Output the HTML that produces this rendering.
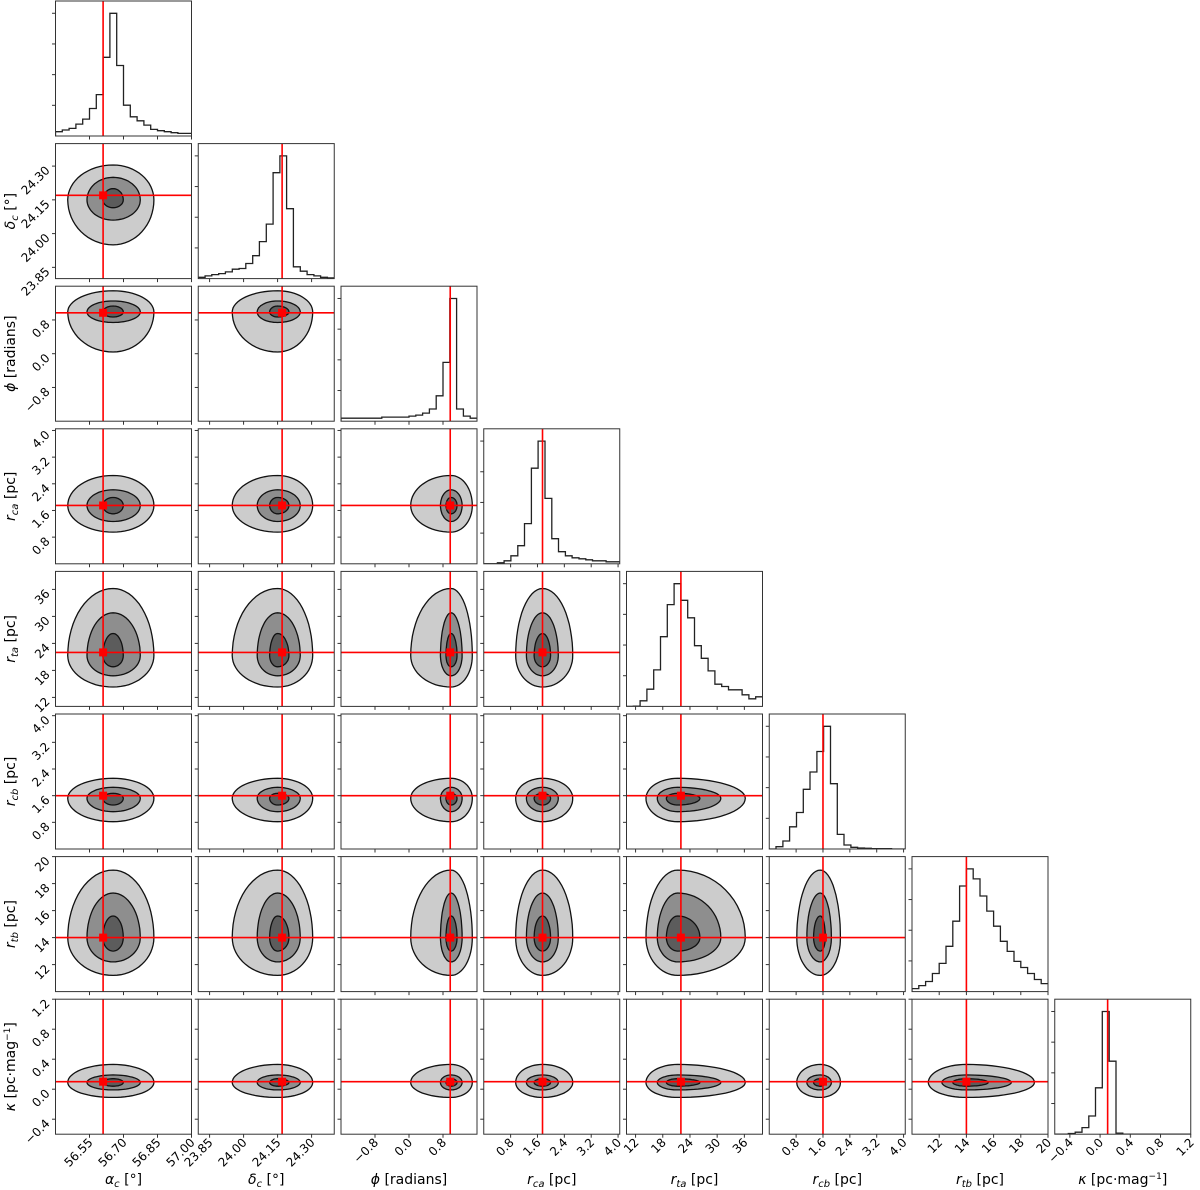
<!DOCTYPE html>
<html><head><meta charset="utf-8"><style>
html,body{margin:0;padding:0;background:#fff;}
svg{display:block;font-family:"DejaVu Sans","Liberation Sans",sans-serif;}
</style></head><body>
<svg id="c" width="1200" height="1190" viewBox="0 0 1200 1190" xmlns="http://www.w3.org/2000/svg"></svg>
<script>
// ---- data ----
const paramMin=[56.4,23.8,-1.6,0,10,0,10,-0.6];
const paramMax=[57.0,24.4,1.6,4.05,40,4.05,20,1.2];
const truths=[56.61,24.17,0.97,1.75,22,1.6,14,0.1];
const modes=[56.654,24.15,0.99,1.75,21.3,1.52,14.0,0.09];
const loW=[[0.2,0.115,0.045],[0.2,0.09,0.035],[0.95,0.25,0.12],[0.8,0.48,0.25],[7,4.5,2.5],[0.7,0.4,0.2],[2.8,1.8,1.0],[0.2,0.1,0.05]];
const hiW=[[0.18,0.12,0.045],[0.155,0.1,0.05],[0.5,0.26,0.14],[0.9,0.47,0.24],[14.9,9.5,4.9],[0.6,0.33,0.15],[5.0,3.3,1.6],[0.24,0.1,0.05]];
const histA=[13,18,23,36,51,83,125,238,371,213,93,58,46,33,20,16,13,10,8,8];
const histD=[4,8,12,15,20,28,30,45,68,110,162,315,365,208,35,22,12,8,4,2];
const histP=[3,3,3,3,3,3,4,4,4,4,5,6,8,12,25,58,121,12,5,3];
const histRca=[0,0,1,3,8,18,40,95,122,65,25,12,8,6,5,4,3,3,2,2];
const histRta=[0,1,17,52,110,210,307,370,320,267,183,145,107,67,60,50,50,35,23,29];
const histRcb=[0,7,24,67,110,180,232,294,370,197,44,12,5,3,2,1,1,1,0,0];
const histRtb=[3,6,10,18,28,45,70,105,122,112,95,80,65,50,40,30,24,18,12,8];
const histK=[0,0,2,6,20,55,140,370,220,3,0,0,0,0,0,0,0,0,0,0];
const tickVals=[[56.55,56.70,56.85,57.00],[23.85,24.00,24.15,24.30],[-0.8,0.0,0.8],[0.8,1.6,2.4,3.2,4.0],[12,18,24,30,36],[0.8,1.6,2.4,3.2,4.0],[12,14,16,18,20],[-0.4,0.0,0.4,0.8,1.2]];
const tickText=[["56.55","56.70","56.85","57.00"],["23.85","24.00","24.15","24.30"],["\u22120.8","0.0","0.8"],["0.8","1.6","2.4","3.2","4.0"],["12","18","24","30","36"],["0.8","1.6","2.4","3.2","4.0"],["12","14","16","18","20"],["\u22120.4","0.0","0.4","0.8","1.2"]];
const hists=[histA,histD,histP,histRca,histRta,histRcb,histRtb,histK];
const labels=[
 ['<tspan font-style="italic">α</tspan><tspan font-style="italic" font-size="10" dy="3">c</tspan><tspan dy="-3">  [°]</tspan>','alpha'],
 ['<tspan font-style="italic">δ</tspan><tspan font-style="italic" font-size="10" dy="3">c</tspan><tspan dy="-3">  [°]</tspan>','delta'],
 ['<tspan font-style="italic">ϕ</tspan> [radians]','phi'],
 ['<tspan font-style="italic">r</tspan><tspan font-style="italic" font-size="10" dy="3">ca</tspan><tspan dy="-3"> [pc]</tspan>','r-ca'],
 ['<tspan font-style="italic">r</tspan><tspan font-style="italic" font-size="10" dy="3">ta</tspan><tspan dy="-3"> [pc]</tspan>','r-ta'],
 ['<tspan font-style="italic">r</tspan><tspan font-style="italic" font-size="10" dy="3">cb</tspan><tspan dy="-3"> [pc]</tspan>','r-cb'],
 ['<tspan font-style="italic">r</tspan><tspan font-style="italic" font-size="10" dy="3">tb</tspan><tspan dy="-3"> [pc]</tspan>','r-tb'],
 ['<tspan font-style="italic">κ</tspan> [pc·mag<tspan font-size="9" dy="-5">−1</tspan><tspan dy="5">]</tspan>','kappa']
];
// ---- geometry ----
const N=8, PW=136, PH=135;
function px0(i){return 55.5+142.75*i;}
function py0(j){return 1+142.6*j;}
function sx(i,v){return px0(i)+(v-paramMin[i])/(paramMax[i]-paramMin[i])*PW;}
function sy(j,v){return py0(j)+PH-(v-paramMin[j])/(paramMax[j]-paramMin[j])*PH;}
let s='<defs>';
for(let j=0;j<N;j++)for(let i=0;i<=j;i++)s+=`<clipPath id="cp${i}_${j}"><rect x="${px0(i)}" y="${py0(j)}" width="${PW}" height="${PH}"/></clipPath>`;
s+='</defs>';
const fills=['#cccccc','#8e8e8e','#5c5c5c'];
function blob(i,j,k){
  const pts=[];
  for(let a=0;a<64;a++){
    const t=a/64*2*Math.PI, c=Math.cos(t), sn=Math.sin(t);
    const dx=c*(c>0?hiW[i][k]:loW[i][k]);
    const dy=sn*(sn>0?hiW[j][k]:loW[j][k]);
    pts.push(sx(i,modes[i]+dx).toFixed(1)+','+sy(j,modes[j]+dy).toFixed(1));
  }
  return 'M'+pts.join('L')+'Z';
}
for(let j=0;j<N;j++){
  for(let i=0;i<=j;i++){
    const x0=px0(i),y0=py0(j);
    s+=`<g>`;
    s+=`<g clip-path="url(#cp${i}_${j})">`;
    if(i===j){
      const h=hists[i], mx=Math.max(...h)*1.1, bw=PW/h.length;
      let d='M'+x0+','+(y0+PH);
      h.forEach((v,b)=>{const yy=y0+PH-v/mx*PH;d+=`L${(x0+b*bw).toFixed(1)},${yy.toFixed(1)}L${(x0+(b+1)*bw).toFixed(1)},${yy.toFixed(1)}`;});
      s+=`<path d="${d}" fill="none" stroke="#222" stroke-width="1.3"/>`;
      s+=`<line x1="${sx(i,truths[i])}" x2="${sx(i,truths[i])}" y1="${y0}" y2="${y0+PH}" stroke="#f00" stroke-width="1.6"/>`;
    } else {
      for(let k=0;k<3;k++)s+=`<path d="${blob(i,j,k)}" fill="${fills[k]}" stroke="#111" stroke-width="1.3"/>`;
      const tx=sx(i,truths[i]), ty=sy(j,truths[j]);
      s+=`<line x1="${tx}" x2="${tx}" y1="${y0}" y2="${y0+PH}" stroke="#f00" stroke-width="1.6"/>`;
      s+=`<line x1="${x0}" x2="${x0+PW}" y1="${ty}" y2="${ty}" stroke="#f00" stroke-width="1.6"/>`;
      s+=`<rect x="${tx-4}" y="${ty-4}" width="8" height="8" fill="#f00"/>`;
    }
    s+='</g>';
    s+=`<rect x="${x0}" y="${y0}" width="${PW}" height="${PH}" fill="none" stroke="#333" stroke-width="1"/>`;
    tickVals[i].forEach((v,t)=>{const xx=sx(i,v);
      s+=`<line x1="${xx}" x2="${xx}" y1="${y0+PH}" y2="${y0+PH+3.5}" stroke="#333"/>`;
      if(j===N-1)s+=`<text font-size="12" text-anchor="end" transform="translate(${xx+4},${y0+PH+9}) rotate(-45)">${tickText[i][t]}</text>`;
    });
    if(i===j){for(let t=1;t<=4;t++){const yy=y0+PH-t*PH*0.25*0.9/0.99;s+=`<line x1="${x0-3.5}" x2="${x0}" y1="${yy}" y2="${yy}" stroke="#333"/>`;}}
    else tickVals[j].forEach((v,t)=>{const yy=sy(j,v);
      s+=`<line x1="${x0-3.5}" x2="${x0}" y1="${yy}" y2="${yy}" stroke="#333"/>`;
      if(i===0)s+=`<text font-size="12" text-anchor="end" transform="translate(${x0-5},${yy+5}) rotate(-45)">${tickText[j][t]}</text>`;
    });
    s+='</g>';
  }
}
for(let i=0;i<N;i++){
  s+=`<text font-size="14" text-anchor="middle" x="${px0(i)+PW/2}" y="1184">${labels[i][0]}</text>`;
  if(i>0)s+=`<text font-size="14" text-anchor="middle" transform="translate(15,${py0(i)+PH/2}) rotate(-90)">${labels[i][0]}</text>`;
}
document.getElementById('c').innerHTML=s;
</script>
</body></html>
